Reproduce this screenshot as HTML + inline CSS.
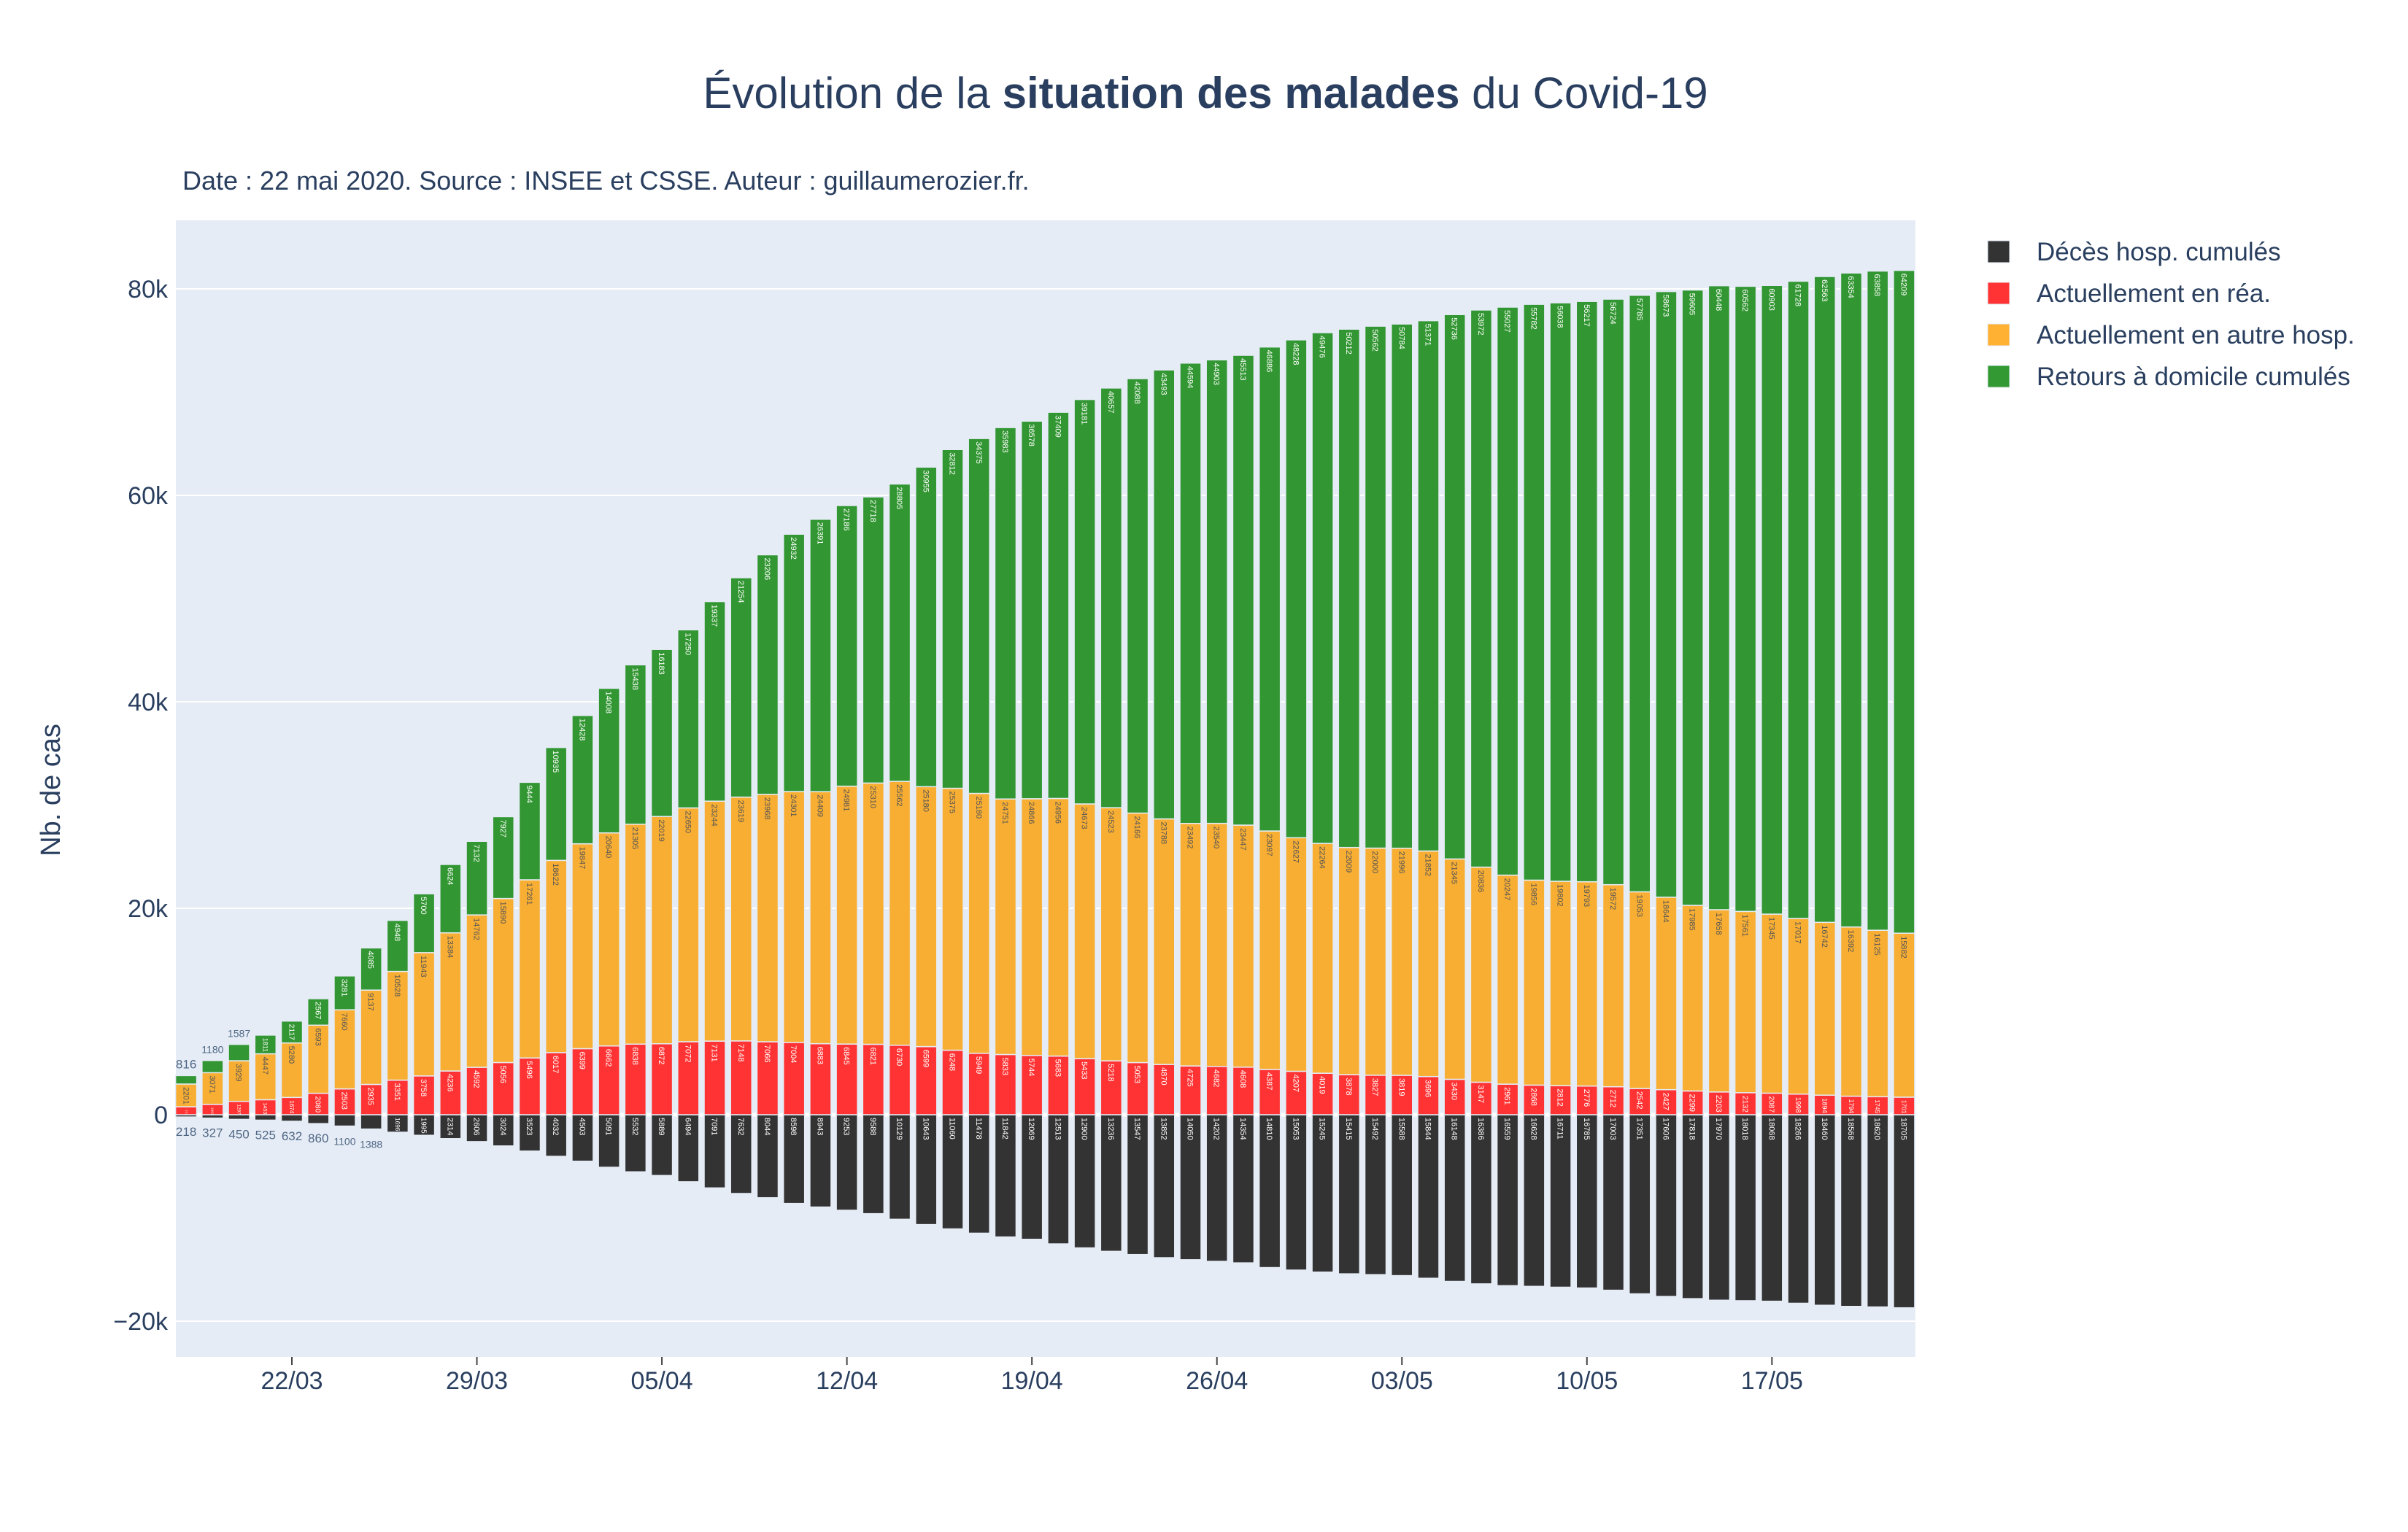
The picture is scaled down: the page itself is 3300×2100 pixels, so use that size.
<!DOCTYPE html>
<html><head><meta charset="utf-8">
<style>
html,body{margin:0;padding:0;background:#fff;}
svg{display:block;font-family:"Liberation Sans",Arial,sans-serif;}
</style></head>
<body>
<svg id="chart" width="3300" height="2100" viewBox="0 0 3300 2100" xmlns="http://www.w3.org/2000/svg">
<rect x="0" y="0" width="3300" height="2100" fill="#fff"/>
<text x="1652" y="148" text-anchor="middle" font-size="60" fill="#2a3f5f">Évolution de la <tspan font-weight="bold">situation des malades</tspan> du Covid-19</text>
<text x="250" y="260" font-size="36" fill="#2a3f5f">Date : 22 mai 2020. Source : INSEE et CSSE. Auteur : guillaumerozier.fr.</text>
<rect x="241" y="302" width="2384" height="1558" fill="#e5ecf6"/>
<g id="grid"></g>
<g id="bars"></g>
<g id="labels"></g>
<g id="axes"></g>
<text transform="translate(82,1083) rotate(-90)" text-anchor="middle" font-size="38" fill="#2a3f5f">Nb. de cas</text>
<g>
<g><rect x="2724" y="330" width="30" height="30" fill="#333" stroke="#e5ecf6"/><text x="2791" y="357" font-size="35" fill="#2a3f5f">Décès hosp. cumulés</text></g>
<g><rect x="2724" y="387" width="30" height="30" fill="#ff3333" stroke="#e5ecf6"/><text x="2791" y="414" font-size="35" fill="#2a3f5f">Actuellement en réa.</text></g>
<g><rect x="2724" y="444" width="30" height="30" fill="#ffb133" stroke="#e5ecf6"/><text x="2791" y="471" font-size="35" fill="#2a3f5f">Actuellement en autre hosp.</text></g>
<g><rect x="2724" y="501" width="30" height="30" fill="#339933" stroke="#e5ecf6"/><text x="2791" y="528" font-size="35" fill="#2a3f5f">Retours à domicile cumulés</text></g>
</g>
</svg>
<script>
// day index 0 = 18/03/2020
const dayIndex = Array.from({length:66},(_,i)=>i);
const deces = [218,327,450,525,632,860,1100,1388,1696,1995,2314,2606,3024,3523,
4032,4503,5091,5532,5889,6494,7091,7632,8044,8598,8943,9253,9588,10129,10643,11060,11478,11842,12069,12513,12900,13236,13547,13852,14050,14202,14354,14810,15053,15245,
15415,15492,15588,15844,16148,16386,16559,16628,16711,16785,17003,17351,17606,17818,17970,18018,18068,18266,18460,18568,18620,18705];
const rea = [771,1002,1297,1453,1674,2080,2503,2935,3351,3758,4236,4592,5056,5496,
6017,6399,6662,6838,6872,7072,7131,7148,7066,7004,6883,6845,6821,6730,6599,6248,5949,5833,5744,5683,5433,5218,5053,4870,4725,4682,4608,4387,4207,4019,
3878,3827,3819,3696,3430,3147,2961,2868,2812,2776,2712,2542,2427,2299,2203,2132,2087,1998,1894,1794,1745,1701];
const autre = [2201,3071,3929,4447,5280,6593,7660,9137,10528,11943,13384,14762,15890,17261,
18622,19847,20640,21305,22019,22650,23244,23619,23968,24301,24409,24981,25310,25562,25180,25375,25180,24751,24866,24956,24673,24523,24166,23788,23492,23540,23447,23097,22627,22264,
22009,22000,21996,21852,21345,20836,20247,19856,19802,19793,19572,19053,18644,17985,17658,17561,17345,17017,16742,16392,16125,15882];
const retours = [816,1180,1587,1811,2117,2567,3281,4085,4948,5700,6624,7132,7927,9444,
10935,12428,14008,15438,16183,17250,19337,21254,23206,24932,26391,27186,27718,28805,30955,32812,34375,35983,36578,37409,39181,40657,42088,43493,44594,44903,45513,46886,48228,49476,
50212,50562,50784,51371,52736,53972,55027,55782,56038,56217,56724,57785,58673,59605,60448,60562,60903,61728,62563,63354,63858,64209];
const yTicks = [-20000,0,20000,40000,60000,80000];
const yTickLabels = ["−20k","0","20k","40k","60k","80k"];
const xTickDays = [4,11,18,25,32,39,46,53,60];
const xTickLabels = ["22/03","29/03","05/04","12/04","19/04","26/04","03/05","10/05","17/05"];

const NS="http://www.w3.org/2000/svg";
const X0=400, DW=36.22, Y0=1528, YS=283/20000, BW=29;
const xS=d=>X0+(d-4)*DW;
const yS=v=>Y0-v*YS;
function mk(tag,parent,attrs){const e=document.createElementNS(NS,tag);for(const k in attrs)e.setAttribute(k,attrs[k]);parent.appendChild(e);return e;}
const grid=document.getElementById('grid'),bars=document.getElementById('bars'),labels=document.getElementById('labels'),axes=document.getElementById('axes');
yTicks.forEach((t,i)=>{
  const l=mk('line',grid,{x1:241,x2:2625,y1:yS(t),y2:yS(t),stroke:'#fff','stroke-width':t===0?5:2});
  
  
  const tx=mk('text',axes,{x:230,y:yS(t)+12,'text-anchor':'end','font-size':34,fill:'#2a3f5f'});
  tx.textContent=yTickLabels[i];
  
  
});
xTickDays.forEach((d,i)=>{
  const l=mk('line',axes,{x1:xS(d),x2:xS(d),y1:1860,y2:1871,stroke:'#444','stroke-width':2});
  
  
  const tx=mk('text',axes,{x:xS(d),y:1904,'text-anchor':'middle','font-size':34,fill:'#2a3f5f'});
  tx.textContent=xTickLabels[i];
  
  
});
function seg(d,v0,v1,fill,name,val,txtCol,outside){
  const x=xS(d)-BW/2, ya=yS(Math.max(v0,v1)), yb=yS(Math.min(v0,v1));
  const r=mk('rect',bars,{x:x,y:ya,width:BW,height:Math.max(0,yb-ya),fill:fill,stroke:'#e5ecf6','stroke-width':1.5});
  
  
  const h=yb-ya;
  let t;
  if(outside==='below'){
    t=mk('text',labels,{x:xS(d),y:yb+26,'text-anchor':'middle','font-size':val>=1000?14:17,fill:'#506784'});
  } else if(outside==='above'){
    t=mk('text',labels,{x:xS(d),y:ya-10,'text-anchor':'middle','font-size':val>=1000?14:17,fill:'#506784'});
  } else {
    const fs=Math.min(11,h/(String(val).length*0.6+0.5));
    if(fs<4) return;
    t=mk('text',labels,{transform:`translate(${xS(d)-fs*0.36},${ya+4}) rotate(90)`,'font-size':fs,fill:txtCol});
  }
  t.textContent=val;
  
  
}
dayIndex.forEach(d=>{
  seg(d,0,-deces[d],'#333333','bar-deces',deces[d],'#fff',d<8?'below':null);
  seg(d,0,rea[d],'#ff3333','bar-rea',rea[d],'#fff',null);
  seg(d,rea[d],rea[d]+autre[d],'#f8ae33','bar-autre-hosp',autre[d],'#555',null);
  const t=rea[d]+autre[d];
  seg(d,t,t+retours[d],'#329632','bar-retours',retours[d],'#fff',d<3?'above':null);
});
</script>
</body></html>
